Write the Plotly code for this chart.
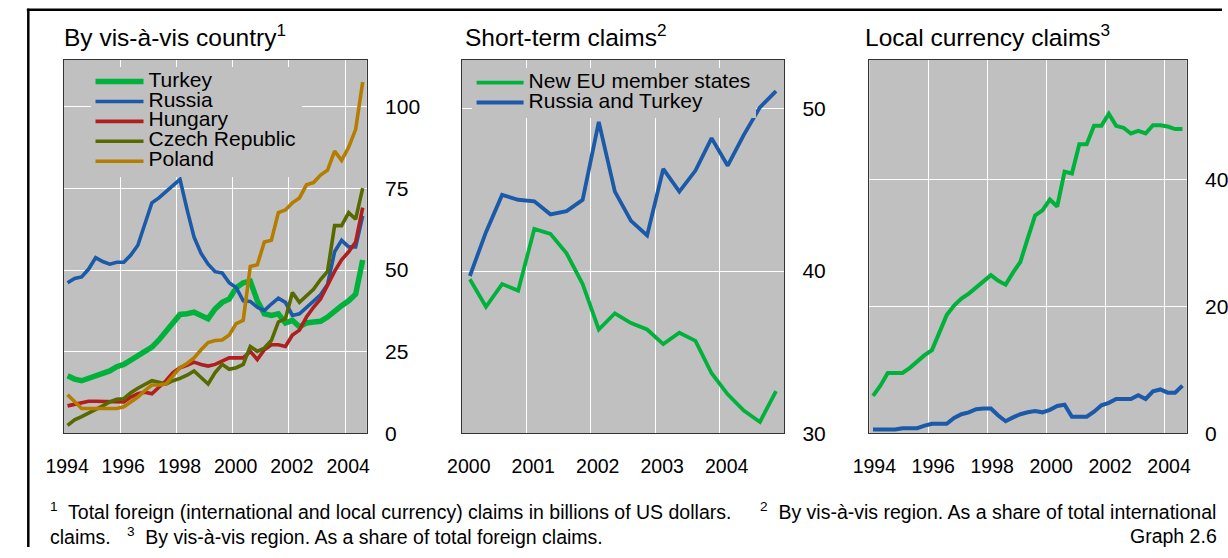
import plotly.graph_objects as go

W, H = 1228, 558

# ---------------- data ----------------
quarters_long = [f"{y}Q{q}" for y in range(1994, 2005) for q in range(1, 5)][:43]   # 1994Q1-2004Q3
quarters_short = [f"{y}Q{q}" for y in range(2000, 2005) for q in range(1, 5)]        # 2000Q1-2004Q4

turkey = [17.6, 16.6, 16.1, 16.8, 17.6, 18.3, 19.1, 20.4, 21.1, 22.4, 23.6, 25.1, 26.4, 28.6, 31.1,
          33.6, 36.4, 36.6, 37.1, 36.1, 35.1, 38.1, 40.1, 41.1, 44.6, 46.1, 46.6, 40.6, 36.6, 36.1,
          36.6, 33.8, 34.6, 32.6, 33.8, 34.1, 34.3, 35.6, 37.6, 39.1, 40.6, 42.6, 53.1]
russia = [46.1, 47.4, 47.9, 50.3, 53.8, 52.6, 51.8, 52.4, 52.4, 54.6, 57.6, 64.1, 70.6, 72.1, 74.1,
          75.8, 77.8, 68.6, 60.1, 55.1, 51.8, 49.5, 49.1, 46.1, 44.6, 40.6, 40.4, 38.6, 37.6, 39.6,
          41.4, 40.1, 36.1, 36.6, 38.6, 40.6, 42.4, 45.6, 55.6, 59.1, 57.1, 57.1, 66.6]
hungary = [8.4, 8.8, 9.4, 9.8, 9.8, 9.8, 9.8, 9.6, 9.6, 11.1, 12.1, 12.6, 12.1, 14.1, 16.1,
           18.6, 20.1, 20.8, 21.8, 21.1, 20.6, 21.1, 22.1, 23.1, 23.1, 23.1, 25.1, 22.6, 25.6, 27.1,
           27.1, 26.6, 30.1, 31.6, 35.6, 38.6, 41.1, 45.6, 49.6, 53.1, 55.6, 58.6, 69.1]
czech = [2.4, 4.1, 5.1, 6.1, 7.1, 8.4, 9.6, 10.4, 10.6, 12.4, 13.8, 15.1, 16.1, 15.6, 15.1,
         16.1, 16.8, 17.8, 19.1, 17.1, 15.1, 18.6, 21.1, 19.6, 20.1, 21.1, 26.6, 25.1, 26.1, 28.4,
         34.1, 35.1, 43.1, 40.1, 42.1, 44.1, 47.1, 49.6, 63.6, 63.6, 67.6, 65.6, 75.1]
poland = [11.8, 9.6, 7.6, 7.6, 7.6, 7.6, 7.6, 7.6, 8.1, 9.6, 11.1, 13.1, 14.8, 14.8, 15.1,
          17.6, 20.1, 21.4, 23.1, 25.6, 27.8, 28.4, 28.6, 30.1, 33.6, 34.6, 51.1, 51.6, 58.6, 59.1,
          67.6, 68.4, 70.6, 72.1, 76.1, 76.8, 79.1, 80.6, 86.4, 83.6, 87.6, 93.1, 107.6]

short_new_eu = [39.5, 37.8, 39.2, 38.8, 42.6, 42.3, 41.1, 39.2, 36.4, 37.4,
                36.8, 36.4, 35.5, 36.2, 35.7, 33.7, 32.4, 31.4, 30.7, 32.6]
short_ru_tr = [39.7, 42.4, 44.7, 44.4, 44.3, 43.5, 43.7, 44.4, 49.2, 44.9,
               43.1, 42.2, 46.3, 44.9, 46.2, 48.2, 46.5, 48.4, 50.1, 51.1]

local_new_eu = [5.9, 7.5, 9.5, 9.5, 9.5, 10.3, 11.4, 12.3, 13.1, 15.9, 18.6, 20.1, 21.2, 22.0, 23.0,
                24.0, 24.9, 24.0, 23.4, 25.3, 27.0, 30.7, 34.3, 35.1, 36.8, 35.7, 41.2, 40.9, 45.5, 45.5,
                48.4, 48.4, 50.3, 48.4, 48.1, 47.2, 47.6, 47.2, 48.5, 48.5, 48.3, 47.9, 47.9]
local_ru_tr = [0.6, 0.6, 0.6, 0.6, 0.8, 0.8, 0.8, 1.2, 1.5, 1.5, 1.5, 2.4, 3.0, 3.3, 3.8,
               3.9, 3.9, 2.8, 1.9, 2.5, 3.0, 3.3, 3.5, 3.3, 3.7, 4.3, 4.5, 2.6, 2.6, 2.6,
               3.4, 4.4, 4.8, 5.4, 5.4, 5.4, 6.0, 5.4, 6.6, 6.9, 6.4, 6.4, 7.5]

x_ticks_long = ["1994", "1996", "1998", "2000", "2002", "2004"]
x_ticks_short = ["2000", "2001", "2002", "2003", "2004"]
y_ticks_1 = [0, 25, 50, 75, 100]
y_ticks_2 = [30, 40, 50]
y_ticks_3 = [0, 20, 40]

names_1 = ["Turkey", "Russia", "Hungary", "Czech Republic", "Poland"]
names_2 = ["New EU member states", "Russia and Turkey"]


def qpos(labels):
    return [int(s[:4]) + (int(s[5]) - 0.5) / 4 for s in labels]


x_long = qpos(quarters_long)
x_short = qpos(quarters_short)

GREEN = "#00b23c"
BLUE = "#1a5aa8"
RED = "#b01e1e"
OLIVE = "#566a00"
GOLD = "#b47d00"
FONT = "Liberation Sans, Arial, sans-serif"


def lname(s):
    return f'<span style="font-size:21px">{s}</span>'


def PX(p):
    return p / W


def PY(p):
    return 1 - p / H


fig = go.Figure()

panel1 = [(turkey, GREEN, 5.5), (russia, BLUE, 3.6), (hungary, RED, 3.6),
          (czech, OLIVE, 3.6), (poland, GOLD, 3.6)]
for (vals, col, w), nm in zip(panel1, names_1):
    fig.add_trace(go.Scatter(x=x_long, y=vals, mode="lines", name=lname(nm),
                             line=dict(color=col, width=w), xaxis="x", yaxis="y",
                             legend="legend"))

for vals, col, nm in [(short_new_eu, GREEN, names_2[0]), (short_ru_tr, BLUE, names_2[1])]:
    fig.add_trace(go.Scatter(x=x_short, y=vals, mode="lines", name=lname(nm),
                             line=dict(color=col, width=3.8), xaxis="x2", yaxis="y2",
                             legend="legend2"))

for vals, col, nm in [(local_new_eu, GREEN, names_2[0]), (local_ru_tr, BLUE, names_2[1])]:
    fig.add_trace(go.Scatter(x=x_long, y=vals, mode="lines", name=nm, showlegend=False,
                             line=dict(color=col, width=4), xaxis="x3", yaxis="y3"))

ydom = [PY(442), PY(61)]


def xax(d0, d1, rng, tv, tt, shift, anchor):
    return dict(domain=[PX(d0), PX(d1)], range=rng, tickvals=tv, ticktext=tt,
                showgrid=True, gridcolor="white", gridwidth=1.3, zeroline=False,
                showline=True, mirror=True, linecolor="#333333", linewidth=1.2,
                ticks="", tickfont=dict(size=19.5, color="black"),
                ticklabelshift=shift, ticklabelstandoff=15, anchor=anchor,
                fixedrange=True)


def yax(rng, tv, anchor):
    return dict(domain=ydom, range=rng, tickvals=tv, side="right",
                showgrid=True, gridcolor="white", gridwidth=1.3, zeroline=False,
                showline=True, mirror=True, linecolor="#333333", linewidth=1.2,
                ticks="", tickfont=dict(size=21, color="black"),
                ticklabelstandoff=13, anchor=anchor, fixedrange=True)


tv_long = [int(t) for t in x_ticks_long]
tv_short = [int(t) for t in x_ticks_short]

annotations = [
    dict(text="By vis-à-vis country<sup>1</sup>", x=PX(44), y=PY(36)),
    dict(text="Short-term claims<sup>2</sup>", x=PX(453), y=PY(36)),
    dict(text="Local currency claims<sup>3</sup>", x=PX(862), y=PY(36)),
]
for a in annotations:
    a.update(xref="paper", yref="paper", xanchor="left", yanchor="middle",
             showarrow=False, font=dict(size=24.5, color="black"))

foot = [
    ("<sup>1</sup>\u00a0 Total foreign (international and local currency) claims in billions of US dollars.",
     30, 521, "left"),
    ("<sup>2</sup>\u00a0 By vis-à-vis region. As a share of total international", 754, 521, "left"),
    ("claims.\u00a0\u00a0 <sup>3</sup>\u00a0 By vis-à-vis region. As a share of total foreign claims.",
     30, 547, "left"),
    ("Graph 2.6", 1225, 547, "right"),
]
for txt, xp, yp, anc in foot:
    annotations.append(dict(text=txt, x=PX(xp), y=PY(yp), xref="paper", yref="paper",
                            xanchor=anc, yanchor="middle", showarrow=False,
                            font=dict(size=19.5, color="black")))

shapes = [
    dict(type="line", xref="paper", yref="paper", x0=PX(8), x1=1, y0=PY(10), y1=PY(10),
         line=dict(color="black", width=2.5)),
    dict(type="line", xref="paper", yref="paper", x0=PX(9.5), x1=PX(9.5), y0=0, y1=PY(9),
         line=dict(color="black", width=2.5)),
]

legend_common = dict(bgcolor="#c0c0c0", borderwidth=0, font=dict(size=13, color="black", family=FONT),
                     xanchor="left", yanchor="top", tracegroupgap=0, itemclick=False,
                     itemdoubleclick=False)

fig.update_layout(
    width=W, height=H,
    margin=dict(l=0, r=0, t=0, b=0),
    paper_bgcolor="white", plot_bgcolor="#c0c0c0",
    font=dict(family=FONT, color="black"),
    xaxis=xax(46, 355, [1994, 2004.77], tv_long, x_ticks_long, 3, "y"),
    yaxis=yax([0, 114.4], y_ticks_1, "x"),
    xaxis2=xax(452, 781, [2000, 2005], tv_short, x_ticks_short, 7, "y2"),
    yaxis2=yax([30, 53.03], y_ticks_2, "x2"),
    xaxis3=xax(868, 1192, [1994, 2004.77], tv_long, x_ticks_long, 5, "y3"),
    yaxis3=yax([0, 58.8], y_ticks_3, "x3"),
    legend=dict(x=PX(73), y=PY(68), itemwidth=48, **legend_common),
    legend2=dict(x=PX(462), y=PY(69), itemwidth=47, **legend_common),
    annotations=annotations,
    shapes=shapes,
    showlegend=True,
)

fig.write_html("out.html",
               config={"displayModeBar": False, "staticPlot": False},
               post_script="document.body.style.margin='0px';document.body.style.overflow='hidden';")
